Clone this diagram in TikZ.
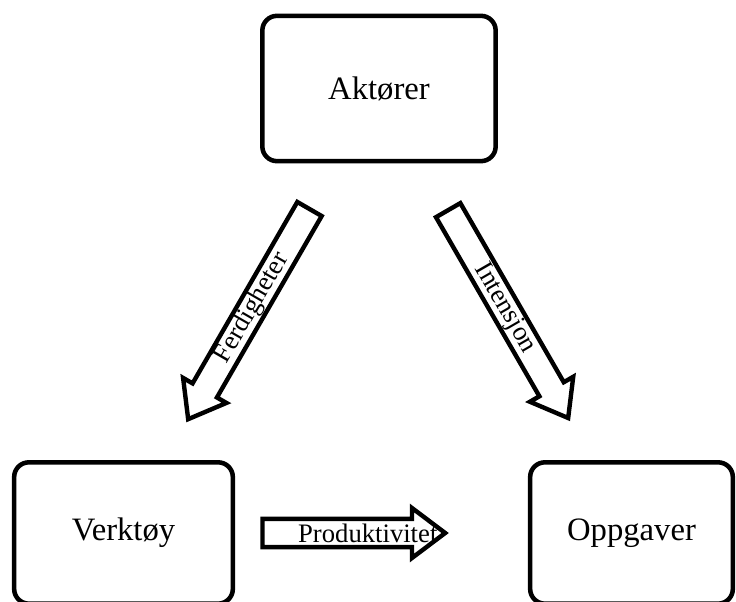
\documentclass[tikz,border=0pt]{standalone}
\usepackage{fontspec}
\setmainfont{Liberation Serif}
\usetikzlibrary{shapes.arrows,calc}
\definecolor{AKLine}{HTML}{000000}
\definecolor{AKFill}{HTML}{FFFFFF}

\begin{document}
\begin{tikzpicture}[x=0.75pt,y=-0.75pt,
  rolebox/.style={draw=AKLine,fill=AKFill,line width=3.4pt,rounded corners=11pt,
    inner sep=0pt,font=\fontsize{24.5}{29}\selectfont},
  blockarrow/.style={draw=AKLine,fill=AKFill,line width=3.3pt,shape=single arrow,
    inner xsep=0pt,inner ysep=8.9pt,minimum width=34pt,single arrow head extend=8.2pt,
    single arrow tip angle=74},
  arrowlabel/.style={inner sep=0pt,font=\fontsize{20}{24}\selectfont}]
\useasboundingbox (0,0) rectangle (736,602);
\fill[white] (0,0) rectangle (736,602);
% the three boxes
\node[rolebox,minimum width=175pt,minimum height=109pt] (akt) at (379,88.5) {Aktører};
\node[rolebox,minimum width=164pt,minimum height=106pt] (verk) at (123.5,533) {Verktøy};
\node[rolebox,minimum width=152pt,minimum height=106pt] (oppg) at (631.5,533) {Oppgaver};
% block arrows
\node[blockarrow,minimum height=182pt,rotate=240] (ferd) at (253.5,306) {};
\node[arrowlabel,rotate=60] (ferdtxt) at ($(ferd.tail)!0.47!(ferd.tip)$) {Ferdigheter};
\node[blockarrow,minimum height=180pt,rotate=300] (inte) at (503.5,306) {};
\node[arrowlabel,rotate=-60] (intetxt) at ($(inte.tail)!0.47!(inte.tip)$) {Intensjon};
\node[blockarrow,minimum height=137pt] (prod) at (344.5,533) {};
\node[arrowlabel] (prodtxt) at ($(prod.tail)!0.57!(prod.tip)$) {Produktivitet};
\end{tikzpicture}
\end{document}
